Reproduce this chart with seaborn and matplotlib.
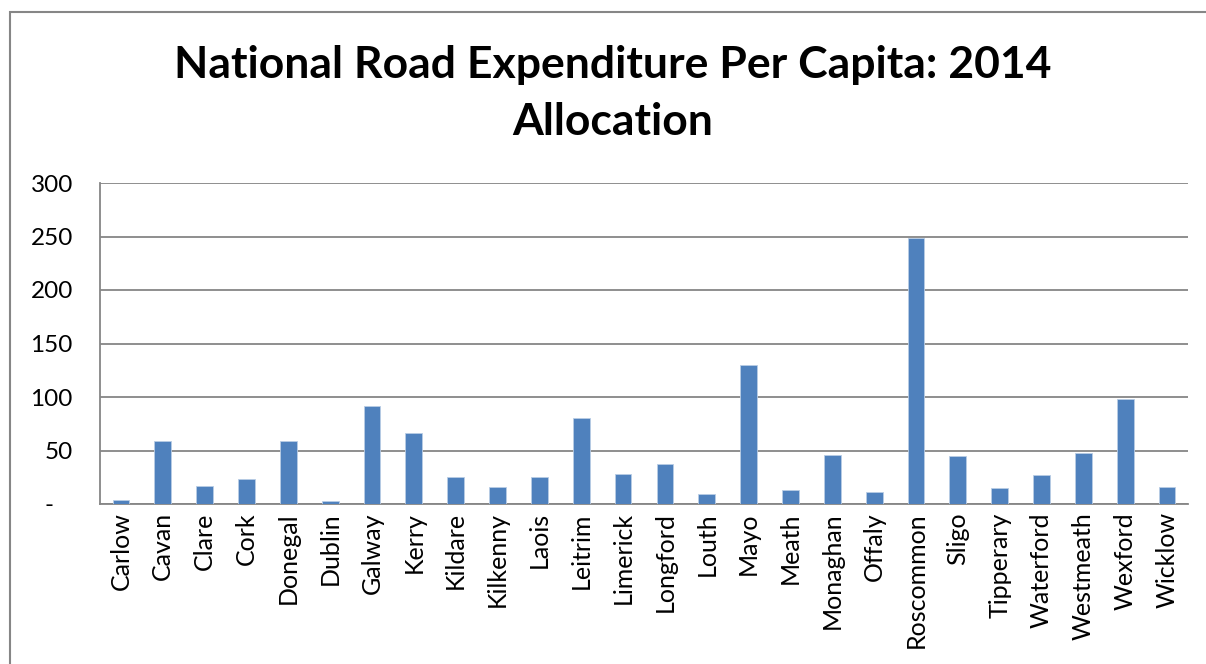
import numpy as np
import pandas as pd
import matplotlib
matplotlib.use("Agg")
import matplotlib.pyplot as plt
import seaborn as sns
from matplotlib.patches import Rectangle

# Data
counties = [
    "Carlow", "Cavan", "Clare", "Cork", "Donegal", "Dublin", "Galway",
    "Kerry", "Kildare", "Kilkenny", "Laois", "Leitrim", "Limerick",
    "Longford", "Louth", "Mayo", "Meath", "Monaghan", "Offaly",
    "Roscommon", "Sligo", "Tipperary", "Waterford", "Westmeath",
    "Wexford", "Wicklow",
]
per_capita = [
    4, 58.5, 16.5, 23, 58.5, 2.5, 91.5,
    66, 25.5, 16, 25.5, 80.5, 28,
    37.5, 9, 129.5, 13, 46, 11,
    248.5, 44.5, 14.5, 27, 48,
    98, 15.5,
]
y_ticks = [0, 50, 100, 150, 200, 250, 300]
# accounting style: zero shown as a dash, padded like Excel does
y_labels = ["-\u00a0\u00a0\u00a0", "50", "100", "150", "200", "250", "300"]

df = pd.DataFrame({"County": counties, "Expenditure": per_capita})

sns.set_style("white")
plt.rcParams["font.family"] = ["Lato", "DejaVu Sans"]
plt.rcParams["text.color"] = "black"
plt.rcParams["xtick.color"] = "black"
plt.rcParams["ytick.color"] = "black"

fig = plt.figure(figsize=(12.06, 6.64), dpi=100)
ax = fig.add_axes([100 / 1206, 1 - 504 / 664, 1088 / 1206, 321 / 664])

grid_col = "#868686"

sns.barplot(data=df, x="County", y="Expenditure", color="#4F81BD",
            width=0.4, edgecolor="#B9CDE5", linewidth=0.6,
            saturation=1, ax=ax, zorder=3)

ax.set_xlim(-0.5, len(counties) - 0.5)
ax.set_ylim(0, 300)
ax.set_yticks(y_ticks)
ax.set_yticklabels(y_labels, fontsize=17.5)
ax.yaxis.grid(True, color=grid_col, linewidth=1.3, zorder=0)
ax.set_axisbelow(True)

ax.set_xticks(range(len(counties)))
ax.set_xticklabels(counties, rotation=90, fontsize=18)
ax.set_xticks(np.arange(-0.5, len(counties), 1), minor=True)
ax.tick_params(axis="x", which="major", length=0, pad=6, labelcolor="black")
ax.tick_params(axis="x", which="minor", length=4.5, color=grid_col, width=1.3, direction="out")
ax.tick_params(axis="y", which="major", length=3, color=grid_col, width=1.3,
               direction="out", pad=16.5, labelcolor="black")

for side in ["top", "right"]:
    ax.spines[side].set_visible(False)
for side in ["left", "bottom"]:
    ax.spines[side].set_color(grid_col)
    ax.spines[side].set_linewidth(1.3)

ax.set_xlabel("")
ax.set_ylabel("")

fig.text(0.508, 1 - 65 / 664, "National Road Expenditure Per Capita: 2014",
         ha="center", va="center", fontsize=32, fontweight="bold", color="black")
fig.text(0.508, 1 - 122 / 664, "Allocation",
         ha="center", va="center", fontsize=32, fontweight="bold", color="black")

# outer chart border (only left and top edges visible in the crop)
fig.patches.append(Rectangle((10 / 1206, -0.1), 1.2, 1 - 12 / 664 + 0.1,
                             transform=fig.transFigure, fill=False,
                             edgecolor=grid_col, linewidth=1.5))

fig.savefig("out.png", dpi=100, facecolor="white")
